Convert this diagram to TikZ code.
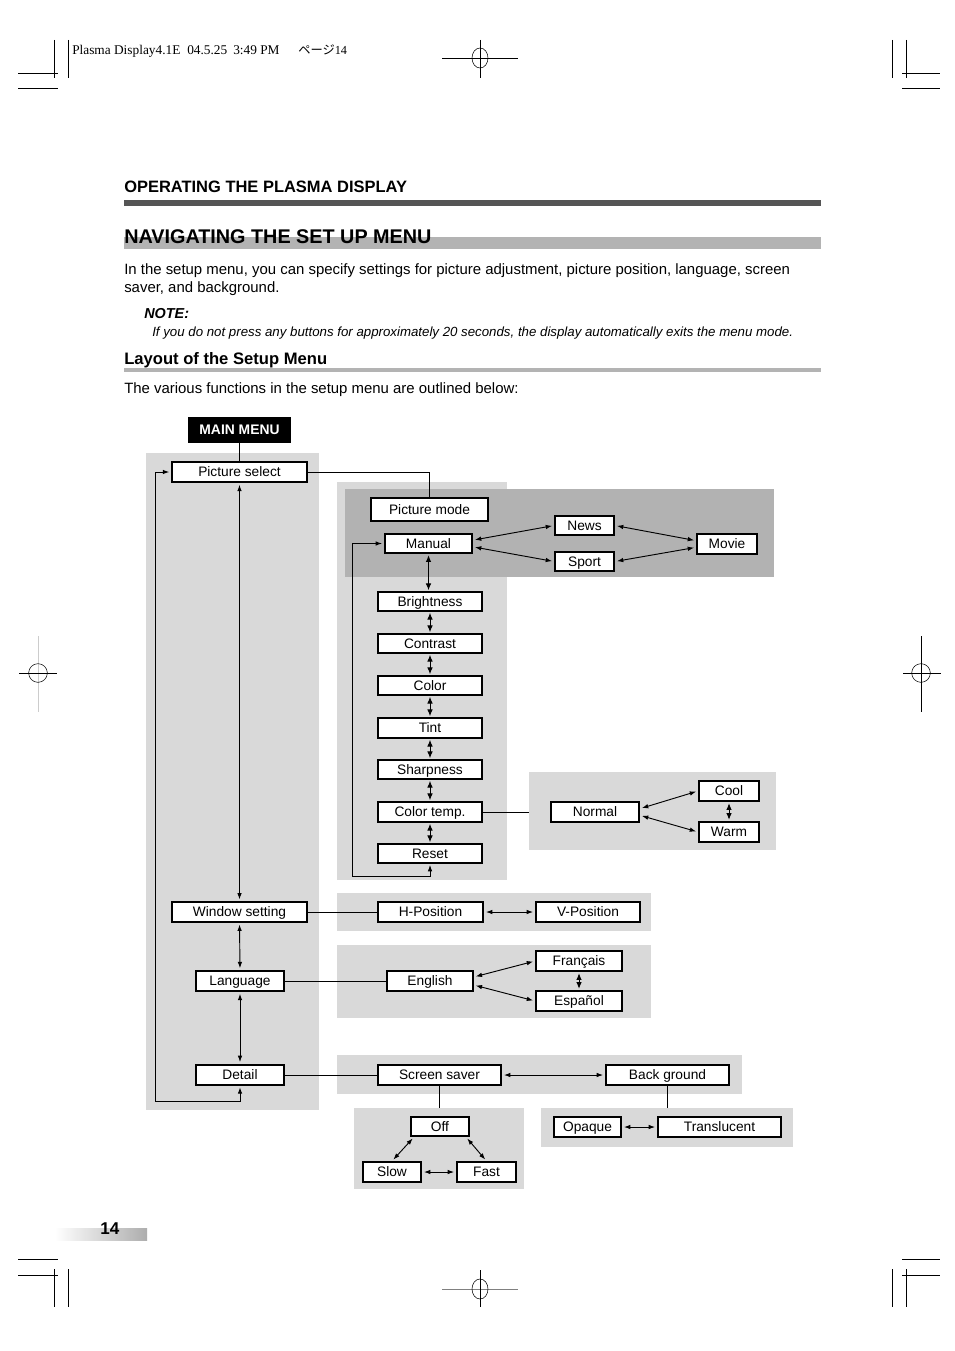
\documentclass[tikz,border=0pt]{standalone}
\usepackage{fontspec}
\setmainfont{Liberation Sans}
\newfontfamily\tms{Liberation Serif}
\newfontfamily\cjk{Noto Sans CJK JP}
\usetikzlibrary{arrows.meta}
\definecolor{pl}{HTML}{D9D9D9}
\definecolor{pd}{HTML}{B2B2B2}
\definecolor{darkbar}{HTML}{555555}
\definecolor{titlebar}{HTML}{B3B3B3}
\newcommand\fs[1]{\fontsize{#1}{#1}\selectfont}
\newcommand\bx[7][]{\node[box,#1,minimum width={(#5-#3)*0.75pt},minimum height={(#6-#4)*0.75pt}] (#2) at ({(#3+#5)/2},{(#4+#6)/2}) {#7};}
\tikzset{
  box/.style={draw, fill=white, inner sep=0pt, line width=0.8pt, font=\fs{10.3pt}, text height=7.2pt, text depth=0pt},
  thk/.style={line width=1.4pt},
  txt/.style={anchor=base west, inner sep=0pt},
  conn/.style={line width=0.7pt},
  dbl/.style={conn, <->, shorten <=1.5pt, shorten >=1.5pt},
  vdbl/.style={conn, <->, >={Latex[length=5pt,width=4.2pt]}, shorten <=1pt, shorten >=1pt},
  crop/.style={line width=0.5pt},
}
\begin{document}
\begin{tikzpicture}[x=0.75pt,y=-0.75pt,>={Latex[length=4.8pt,width=3.4pt]}]
\useasboundingbox (0,0) rectangle (954,1351);
\fill[white] (0,0) rectangle (954,1351);

% ---------- crop and registration marks ----------
\draw[crop] (18,73) -- (58,73) (18,88) -- (58,88) (54,40) -- (54,78) (68,40) -- (68,78);
\draw[crop] (902,73) -- (940,73) (902,88) -- (940,88) (892,40) -- (892,78) (906,40) -- (906,78);
\draw[crop] (18,1259) -- (58,1259) (18,1275) -- (58,1275) (54,1269) -- (54,1307) (68,1269) -- (68,1307);
\draw[crop] (902,1259) -- (940,1259) (902,1275) -- (940,1275) (892,1269) -- (892,1307) (906,1269) -- (906,1307);
\draw[crop] (442,58) -- (518,58) (480,40) -- (480,78);
\draw[line width=0.4pt] (480,58) ellipse [x radius=6pt, y radius=7.5pt];
\draw[crop, gray] (442,1289) -- (518,1289);
\draw[crop] (480,1270) -- (480,1307);
\draw[line width=0.4pt] (480,1289) ellipse [x radius=6pt, y radius=7.5pt];
\draw[crop, gray!40] (38,636) -- (38,712);
\draw[crop] (19,673) -- (57,673);
\draw[line width=0.4pt] (38,673) circle [radius=7pt];
\draw[crop] (921,636) -- (921,712) (903,673) -- (941,673);
\draw[line width=0.4pt] (921,673) circle [radius=7pt];

% ---------- header ----------
\node[txt, font=\tms\fs{10pt}] (hd1) at (72,55) {Plasma Display4.1E};
\node[txt, font=\tms\fs{10pt}] (hd2) at (187,55) {04.5.25};
\node[txt, font=\tms\fs{10pt}] (hd3) at (233,55) {3:49 PM};
\node[txt, font=\fs{9.2pt}] (hd4) at (298,55) {{\cjk ページ}{\tms 14}};

\node[txt, font=\bfseries\fs{12.35pt}] (sec) at (124,193) {OPERATING THE PLASMA DISPLAY};
\fill[darkbar] (124,200) rectangle (821,206);
\fill[titlebar] (124,237) rectangle (821,249);
\node[txt, font=\bfseries\fs{14.85pt}] (title) at (124,244) {NAVIGATING THE SET UP MENU};
\node[txt, font=\fs{11.2pt}] (p1) at (124,275) {In the setup menu, you can specify settings for picture adjustment, picture position, language, screen};
\node[txt, font=\fs{11.2pt}] (p2) at (124,293) {saver, and background.};
\node[txt, font=\bfseries\itshape\fs{10.8pt}] (note) at (144,319) {NOTE:};
\node[txt, font=\itshape\fs{9.95pt}] (notet) at (152,337) {If you do not press any buttons for approximately 20 seconds, the display automatically exits the menu mode.};
\node[txt, font=\bfseries\fs{12.45pt}] (lay) at (124,365) {Layout of the Setup Menu};
\fill[titlebar] (124,368) rectangle (821,372);
\node[txt, font=\fs{11.2pt}] (p3) at (124,393) {The various functions in the setup menu are outlined below:};

% ---------- panels ----------
\fill[pl] (146,453) rectangle (319,1110);
\fill[pl] (337,482) rectangle (507,880);
\fill[pd] (345,489) rectangle (774,577);
\fill[pl] (529,772) rectangle (776,850);
\fill[pl] (337,893) rectangle (651,931);
\fill[pl] (337,945) rectangle (651,1018);
\fill[pl] (337,1055) rectangle (742,1094);
\fill[pl] (354,1108) rectangle (524,1189);
\fill[pl] (541,1108) rectangle (793,1147);

% ---------- boxes ----------
\bx[fill=black, text=white, font=\bfseries\fs{10.4pt}]{mm}{189}{418}{290}{442}{MAIN MENU}
\bx[line width=1.1pt]{ps}{172}{462}{307}{482}{Picture select}
\bx{pmode}{371}{498}{488}{521}{Picture mode}
\bx[thk]{manual}{385}{534}{472}{553}{Manual}
\bx[thk]{news}{555}{516}{614}{535}{News}
\bx[thk]{sport}{555}{552}{614}{571}{Sport}
\bx[thk]{movie}{697}{534}{757}{554}{Movie}
\bx{bright}{378}{592}{482}{611}{Brightness}
\bx{contrast}{378}{634}{482}{653}{Contrast}
\bx{color}{378}{676}{482}{695}{Color}
\bx{tint}{378}{718}{482}{738}{Tint}
\bx{sharp}{378}{760}{482}{779}{Sharpness}
\bx{ctemp}{378}{802}{482}{822}{Color temp.}
\bx{reset}{378}{844}{482}{863}{Reset}
\bx[thk]{normal}{551}{802}{639}{822}{Normal}
\bx[thk]{cool}{699}{781}{759}{801}{Cool}
\bx[thk]{warm}{699}{822}{759}{842}{Warm}
\bx{ws}{172}{902}{307}{922}{Window setting}
\bx[line width=1.1pt]{lang}{196}{971}{284}{991}{Language}
\bx[thk]{detail}{196}{1065}{284}{1085}{Detail}
\bx[thk]{hpos}{378}{902}{483}{922}{H-Position}
\bx[thk]{vpos}{536}{902}{640}{922}{V-Position}
\bx[line width=1.1pt]{eng}{387}{971}{473}{991}{English}
\bx[thk]{fr}{536}{951}{622}{971}{Français}
\bx[thk]{es}{536}{991}{622}{1011}{Español}
\bx[thk]{ss}{378}{1065}{501}{1085}{Screen saver}
\bx[thk]{bg}{606}{1065}{729}{1085}{Back ground}
\bx[thk]{off}{411}{1117}{469}{1136}{Off}
\bx[thk]{slow}{363}{1162}{421}{1182}{Slow}
\bx[thk]{fast}{457}{1162}{516}{1182}{Fast}
\bx[thk]{opaque}{554}{1117}{621}{1137}{Opaque}
\bx[thk]{transl}{658}{1117}{781}{1137}{Translucent}

% ---------- free ends ----------
\coordinate (lpA) at (352,876);
\coordinate (lpB) at (155,1101);
\coordinate (p4w) at (529,812);
\coordinate (p8n) at (440,1108);

% ---------- connectors ----------
\draw[conn] (mm.south) -- (ps.north);
\draw[conn] (ps.east) -| (pmode.north);
\draw[dbl] ([yshift=2.5pt]manual.east) -- (news.west);
\draw[dbl] ([yshift=-2.5pt]manual.east) -- (sport.west);
\draw[dbl] (news.east) -- ([yshift=2.5pt]movie.west);
\draw[dbl] (sport.east) -- ([yshift=-2.5pt]movie.west);
\draw[vdbl] (manual.south) -- (manual.south |- bright.north);
\draw[vdbl] (bright.south) -- (contrast.north);
\draw[vdbl] (contrast.south) -- (color.north);
\draw[vdbl] (color.south) -- (tint.north);
\draw[vdbl] (tint.south) -- (sharp.north);
\draw[vdbl] (sharp.south) -- (ctemp.north);
\draw[vdbl] (ctemp.south) -- (reset.north);
\draw[conn, <->, shorten <=1pt, shorten >=1.5pt] (reset.south) |- (lpA) |- (manual.west);
\draw[conn] (ctemp.east) -- (p4w);
\draw[dbl] ([yshift=2.5pt]normal.east) -- (cool.west);
\draw[dbl] ([yshift=-2.5pt]normal.east) -- (warm.west);
\draw[vdbl] (cool.south) -- (warm.north);
\draw[conn, <->, shorten <=1.5pt, shorten >=1.5pt] (ps.south) -- (ws.north);
\draw[conn, <->, shorten <=1pt, shorten >=1.5pt] (detail.south) |- (lpB) |- (ps.west);
\draw[dbl] (ws.south) -- (lang.north);
\draw[dbl] (lang.south) -- (detail.north);
\draw[conn] (ws.east) -- (hpos.west);
\draw[dbl] (hpos.east) -- (vpos.west);
\draw[conn] (lang.east) -- (eng.west);
\draw[dbl] ([yshift=3pt]eng.east) -- (fr.west);
\draw[dbl] ([yshift=-3pt]eng.east) -- (es.west);
\draw[vdbl] (fr.south) -- (es.north);
\draw[conn] (detail.east) -- (ss.west);
\draw[dbl] (ss.east) -- (bg.west);
\draw[conn] (ss.south) -- (ss.south |- p8n);
\draw[conn] (bg.south) -- (bg.south |- p8n);
\draw[dbl] ([xshift=3pt]off.south west) -- (slow.north);
\draw[dbl] ([xshift=-3pt]off.south east) -- (fast.north);
\draw[dbl] (slow.east) -- (fast.west);
\draw[dbl] (opaque.east) -- (transl.west);

% ---------- page number ----------
\shade[left color=white, right color=black!32] (55,1228) rectangle (147,1240);
\node[txt, font=\bfseries\fs{12.8pt}] (pg) at (100,1234) {14};
\end{tikzpicture}
\end{document}
